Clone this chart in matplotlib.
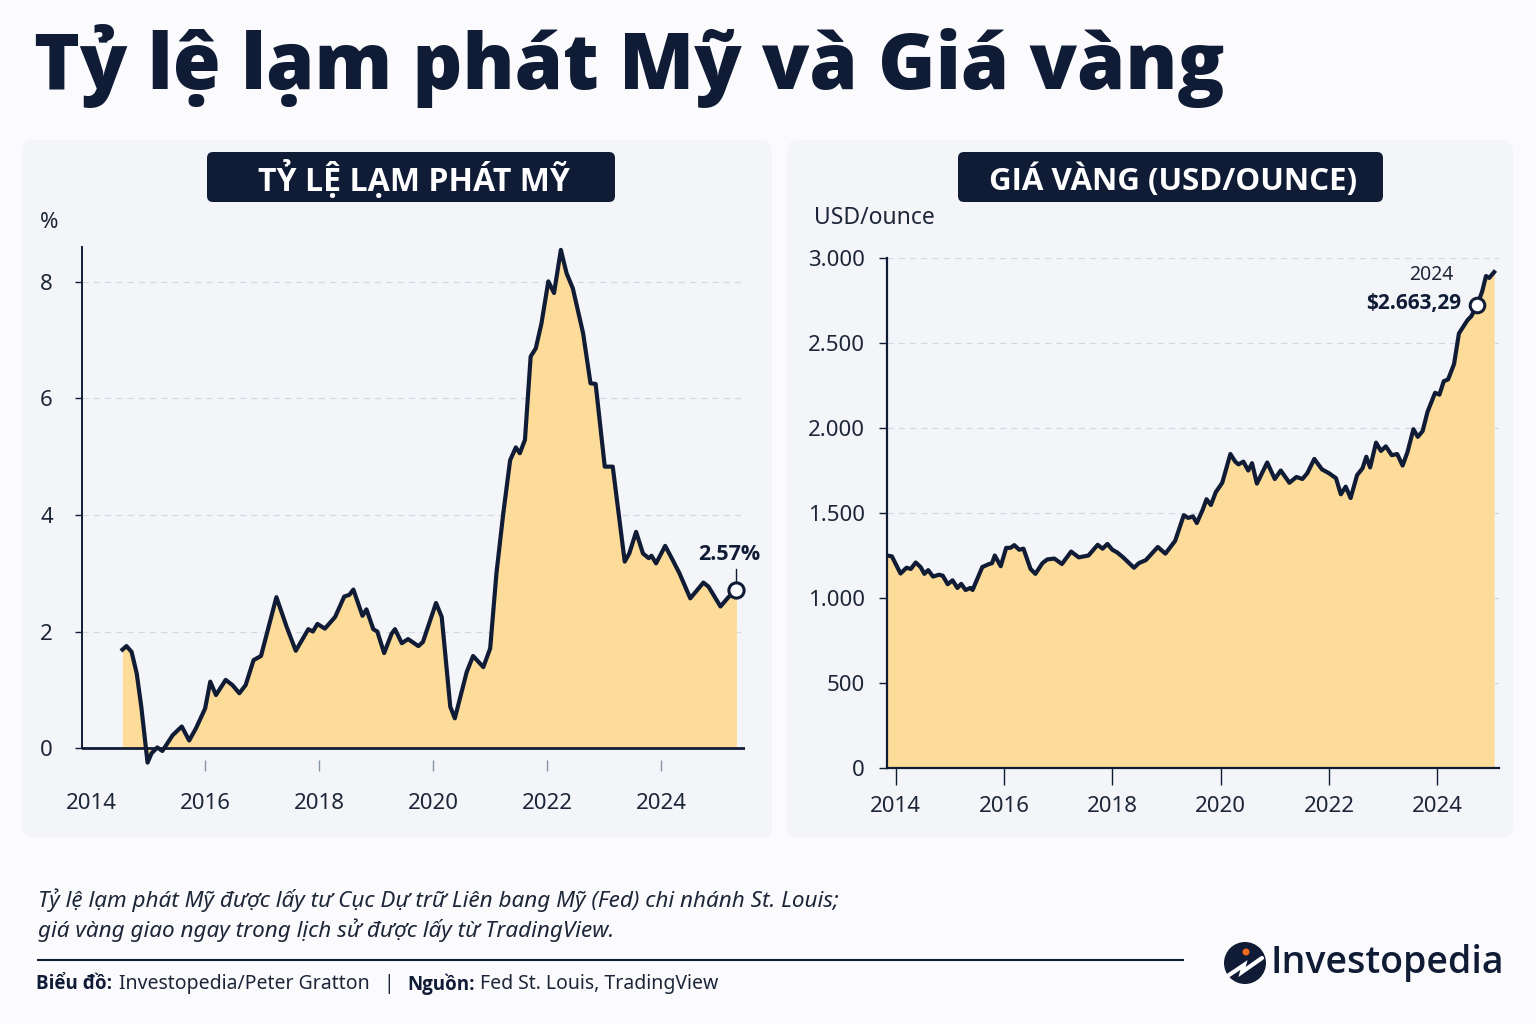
import numpy as np
import matplotlib
matplotlib.use("Agg")
import matplotlib.pyplot as plt
from matplotlib.patches import FancyBboxPatch, Circle

# ---------------------------------------------------------------------------
# Data
# ---------------------------------------------------------------------------
cpi_years = [2014.55, 2014.62, 2014.71, 2014.80, 2014.88, 2014.99, 2015.06, 2015.16, 2015.25,
             2015.43, 2015.59, 2015.72, 2015.84, 2016.00, 2016.09, 2016.19, 2016.36, 2016.48,
             2016.60, 2016.71, 2016.85, 2016.98, 2017.25, 2017.43, 2017.59, 2017.81, 2017.89,
             2017.97, 2018.10, 2018.28, 2018.44, 2018.53, 2018.60, 2018.76, 2018.83, 2018.95,
             2019.02, 2019.14, 2019.27, 2019.33, 2019.45, 2019.56, 2019.74, 2019.82, 2020.05,
             2020.15, 2020.30, 2020.38, 2020.59, 2020.70, 2020.88, 2021.00, 2021.11, 2021.23,
             2021.35, 2021.45, 2021.52, 2021.61, 2021.71, 2021.80, 2021.90, 2022.02, 2022.12,
             2022.24, 2022.34, 2022.45, 2022.63, 2022.76, 2022.85, 2023.01, 2023.15, 2023.36,
             2023.44, 2023.56, 2023.68, 2023.78, 2023.83, 2023.91, 2024.07, 2024.20, 2024.32,
             2024.51, 2024.63, 2024.74, 2024.83, 2025.04, 2025.18, 2025.32]
cpi_values = [1.69, 1.75, 1.65, 1.28, 0.71, -0.25, -0.09, 0.01, -0.05,
              0.22, 0.37, 0.13, 0.34, 0.68, 1.14, 0.91, 1.17, 1.08,
              0.94, 1.08, 1.51, 1.58, 2.59, 2.08, 1.67, 2.04, 2.00,
              2.13, 2.05, 2.25, 2.60, 2.63, 2.72, 2.27, 2.38, 2.04,
              2.00, 1.63, 1.96, 2.04, 1.80, 1.87, 1.75, 1.82, 2.49,
              2.25, 0.71, 0.51, 1.31, 1.58, 1.39, 1.71, 3.00, 4.03,
              4.94, 5.16, 5.06, 5.29, 6.72, 6.86, 7.29, 8.01, 7.81,
              8.55, 8.15, 7.89, 7.12, 6.26, 6.25, 4.83, 4.83, 3.20,
              3.34, 3.71, 3.34, 3.26, 3.30, 3.17, 3.47, 3.23, 3.00,
              2.57, 2.71, 2.84, 2.77, 2.43, 2.59, 2.71]
cpi_label = "2.57%"

gold_years = [2013.84, 2013.93, 2014.09, 2014.20, 2014.28, 2014.37, 2014.46, 2014.53, 2014.60,
              2014.69, 2014.80, 2014.87, 2014.96, 2015.05, 2015.14, 2015.21, 2015.29, 2015.38,
              2015.42, 2015.60, 2015.71, 2015.78, 2015.83, 2015.94, 2016.04, 2016.12, 2016.19,
              2016.28, 2016.36, 2016.49, 2016.58, 2016.71, 2016.80, 2016.93, 2017.07, 2017.24,
              2017.38, 2017.56, 2017.73, 2017.82, 2017.91, 2018.00, 2018.09, 2018.20, 2018.40,
              2018.49, 2018.62, 2018.84, 2018.98, 2019.16, 2019.32, 2019.40, 2019.49, 2019.56,
              2019.67, 2019.74, 2019.82, 2019.91, 2020.03, 2020.18, 2020.27, 2020.33, 2020.42,
              2020.51, 2020.58, 2020.67, 2020.86, 2021.00, 2021.11, 2021.27, 2021.40, 2021.51,
              2021.60, 2021.73, 2021.87, 2022.00, 2022.13, 2022.22, 2022.31, 2022.40, 2022.52,
              2022.62, 2022.69, 2022.76, 2022.87, 2022.96, 2023.05, 2023.16, 2023.26, 2023.36,
              2023.45, 2023.56, 2023.64, 2023.73, 2023.82, 2023.96, 2024.04, 2024.12, 2024.20,
              2024.31, 2024.40, 2024.49, 2024.56, 2024.63, 2024.74, 2024.83, 2024.90, 2024.96,
              2025.05]
gold_values = [1250, 1245, 1144, 1178, 1171, 1209, 1182, 1142, 1164,
               1126, 1137, 1131, 1081, 1104, 1059, 1083, 1047, 1059,
               1047, 1182, 1198, 1205, 1250, 1187, 1295, 1295, 1311,
               1284, 1290, 1171, 1142, 1205, 1227, 1232, 1200, 1273,
               1239, 1250, 1313, 1290, 1318, 1284, 1268, 1239, 1178,
               1205, 1223, 1300, 1261, 1336, 1487, 1471, 1480, 1441,
               1520, 1581, 1547, 1622, 1678, 1847, 1802, 1786, 1802,
               1750, 1793, 1673, 1797, 1700, 1750, 1678, 1712, 1700,
               1734, 1818, 1757, 1734, 1705, 1610, 1655, 1588, 1723,
               1763, 1831, 1768, 1914, 1865, 1892, 1840, 1847, 1779,
               1858, 1993, 1948, 1982, 2095, 2207, 2196, 2275, 2286,
               2376, 2556, 2601, 2635, 2658, 2725, 2804, 2894, 2883,
               2917]
gold_mark_year = 2024.74
gold_mark_value = 2725
gold_label_year = "2024"
gold_label_value = "$2.663,29"

year_ticks = [2014, 2016, 2018, 2020, 2022, 2024]
cpi_ticks = [0, 2, 4, 6, 8]
gold_ticks = [0, 500, 1000, 1500, 2000, 2500, 3000]
gold_tick_labels = ["0", "500", "1.000", "1.500", "2.000", "2.500", "3.000"]

# ---------------------------------------------------------------------------
# Style
# ---------------------------------------------------------------------------
NAVY = "#101c36"
FILL = "#fcdc98"
PANEL = "#f3f5f9"
BG = "#fbfbfd"
GRID = "#d3d9e3"
TXT = "#1d2638"
W, H = 1536, 1024
BOLD = ["Open Sans", "DejaVu Sans"]   # Noto Sans here is a variable font without static bold

plt.rcParams["font.family"] = ["Noto Sans", "DejaVu Sans"]

fig = plt.figure(figsize=(W / 100, H / 100), dpi=100, facecolor=BG)

# background axes in pixel coordinates (y downwards)
bg = fig.add_axes([0, 0, 1, 1])
bg.set_xlim(0, W)
bg.set_ylim(H, 0)
bg.axis("off")


def rbox(x0, y0, x1, y1, color, r):
    bg.add_patch(FancyBboxPatch((x0 + r, y0 + r), x1 - x0 - 2 * r, y1 - y0 - 2 * r,
                                boxstyle=f"round,pad={r}", fc=color, ec="none"))


# panels and badges
rbox(22, 140, 772, 838, PANEL, 12)
rbox(787, 140, 1513, 838, PANEL, 12)
rbox(207, 152, 615, 202, NAVY, 6)
rbox(958, 152, 1383, 202, NAVY, 6)
bg.text(414, 180, "TỶ LỆ LẠM PHÁT MỸ", color="white", fontsize=23, family=BOLD,
        fontweight="bold", ha="center", va="center")
bg.text(1173, 180, "GIÁ VÀNG (USD/OUNCE)", color="white", fontsize=22.5, family=BOLD,
        fontweight="bold", ha="center", va="center")

# main title
bg.text(34, 66, "Tỷ lệ lạm phát Mỹ và Giá vàng", color=NAVY, fontsize=56, family=BOLD,
        fontweight="heavy", ha="left", va="center")

# axis unit labels
bg.text(40, 223, "%", color=TXT, fontsize=16, ha="left", va="center")
bg.text(814, 218, "USD/ounce", color=TXT, fontsize=16.5, ha="left", va="center")

# footer
bg.text(38, 900, "Tỷ lệ lạm phát Mỹ được lấy tư Cục Dự trữ Liên bang Mỹ (Fed) chi nhánh St. Louis;",
        color=TXT, fontsize=16.2, style="italic", ha="left", va="center")
bg.text(38, 930, "giá vàng giao ngay trong lịch sử được lấy từ TradingView.",
        color=TXT, fontsize=16.2, style="italic", ha="left", va="center")
bg.plot([38, 1183], [960, 960], color=NAVY, lw=1.5)
bg.text(36, 984, "Biểu đồ:", color=NAVY, fontsize=13.5, family=BOLD, fontweight="bold",
        ha="left", va="center")
bg.text(119, 984, "Investopedia/Peter Gratton", color=TXT, fontsize=14, ha="left", va="center")
bg.text(389, 984, "|", color=TXT, fontsize=14, ha="center", va="center")
bg.text(407, 984, "Nguồn:", color=NAVY, fontsize=13.5, family=BOLD, fontweight="bold",
        ha="left", va="center")
bg.text(480, 984, "Fed St. Louis, TradingView", color=TXT, fontsize=14, ha="left", va="center")

# logo
bg.add_patch(Circle((1245, 963), 21, fc=NAVY, ec="none"))
bg.plot([1229, 1244, 1242, 1262], [975, 965, 972, 958], color="white", lw=3,
        solid_capstyle="round", solid_joinstyle="miter")
bg.add_patch(Circle((1246, 952), 3.5, fc="#f26b21", ec="none"))
bg.text(1270, 963, "Investopedia", color=NAVY, fontsize=27, family=BOLD, fontweight="semibold",
        ha="left", va="center")

# ---------------------------------------------------------------------------
# Left chart: inflation
# ---------------------------------------------------------------------------
cpi_ylim = (-0.2, 8.6)
ax1 = fig.add_axes([82 / W, 1 - 759.7 / H, (745 - 82) / W, (759.7 - 247) / H])
ax1.set_facecolor("none")
ax1.set_xlim(2013.84, 2025.47)
ax1.set_ylim(*cpi_ylim)
ax1.fill_between(cpi_years, cpi_values, 0, color=FILL, lw=0, zorder=1)
ax1.plot(cpi_years, cpi_values, color=NAVY, lw=3, zorder=3, clip_on=False,
         solid_joinstyle="round")
ax1.axhline(0, color=NAVY, lw=2, zorder=2)
for v in cpi_ticks[1:]:
    ax1.axhline(v, color=GRID, lw=0.9, ls=(0, (5, 4)), zorder=0)
ax1.scatter([cpi_years[-1]], [cpi_values[-1]], s=120, fc="white", ec=NAVY, lw=2.2, zorder=4,
            clip_on=False)
ax1.plot([cpi_years[-1], cpi_years[-1]], [cpi_values[-1] + 0.15, 3.08], color=NAVY, lw=1,
         zorder=3)
ax1.text(2025.2, 3.32, cpi_label, color=NAVY, fontsize=15.5, family=BOLD, fontweight="bold",
         ha="center", va="center")
for s in ["top", "right", "bottom"]:
    ax1.spines[s].set_visible(False)
ax1.spines["left"].set_color(NAVY)
ax1.spines["left"].set_linewidth(1.4)
ax1.spines["left"].set_bounds(0, 8.6)
ax1.set_yticks(cpi_ticks)
ax1.set_xticks(year_ticks)
ax1.tick_params(axis="y", length=5, width=1, color=NAVY, labelsize=16, labelcolor=TXT, pad=16)
ax1.tick_params(axis="x", length=8, width=1, color="#8a93a5", labelsize=16, labelcolor=TXT,
                pad=16)
ax1.xaxis.get_major_ticks()[0].tick1line.set_visible(False)

# ---------------------------------------------------------------------------
# Right chart: gold
# ---------------------------------------------------------------------------
ax2 = fig.add_axes([887 / W, 1 - 768 / H, (1499 - 887) / W, (768 - 258) / H])
ax2.set_facecolor("none")
ax2.set_xlim(2013.84, 2025.14)
ax2.set_ylim(0, 3000)
ax2.fill_between(gold_years, gold_values, 0, color=FILL, lw=0, zorder=1)
ax2.plot(gold_years, gold_values, color=NAVY, lw=3, zorder=3, solid_joinstyle="round")
for v in gold_ticks[1:]:
    ax2.axhline(v, color=GRID, lw=0.9, ls=(0, (5, 4)), zorder=0)
ax2.scatter([gold_mark_year], [gold_mark_value], s=110, fc="white", ec=NAVY, lw=2.2, zorder=4)
ax2.text(2024.3, 2900, gold_label_year, color=TXT, fontsize=14, ha="right", va="center")
ax2.text(2024.44, 2730, gold_label_value, color=NAVY, fontsize=15, family=BOLD,
         fontweight="bold", ha="right", va="center")
for s in ["top", "right"]:
    ax2.spines[s].set_visible(False)
for s in ["left", "bottom"]:
    ax2.spines[s].set_color(NAVY)
    ax2.spines[s].set_linewidth(1.6)
ax2.set_yticks(gold_ticks)
ax2.set_yticklabels(gold_tick_labels)
ax2.set_xticks(year_ticks)
ax2.tick_params(axis="y", length=6, width=1, color=NAVY, labelsize=16, labelcolor=TXT, pad=10)
ax2.tick_params(axis="x", length=12, width=1, color=NAVY, labelsize=16, labelcolor=TXT, pad=8)

fig.savefig("out.png", dpi=100, facecolor=BG)
